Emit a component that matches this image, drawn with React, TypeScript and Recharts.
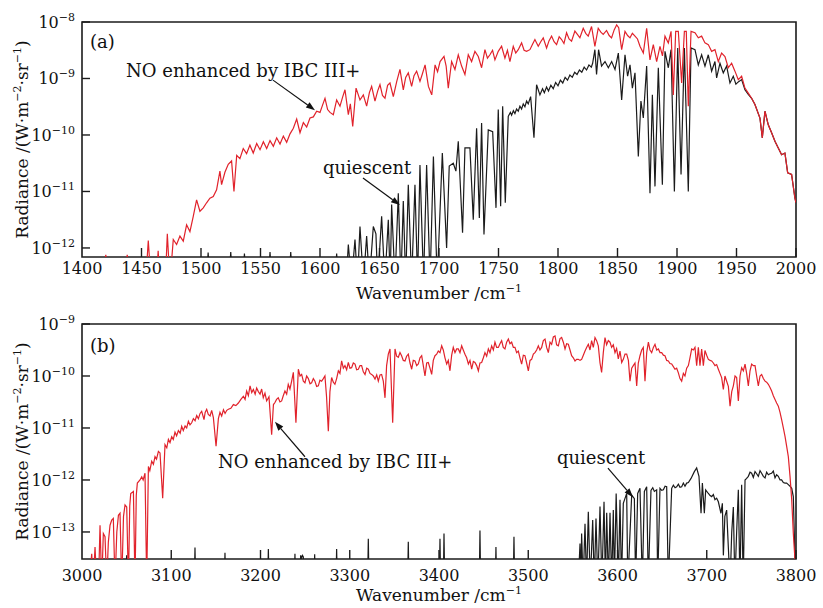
import { LineChart, Line, XAxis, YAxis, ReferenceArea, ReferenceDot } from 'recharts';

const SERIF = '"DejaVu Serif", "Liberation Serif", serif';
const RED = '#e1222b';
const INK = '#1b1b1b';

// ---- panel (a): 1400-2000 cm-1, values are log10 of radiance ----
const redAWn = [
  1400, 1418, 1420, 1422, 1436, 1438, 1440, 1453.5, 1455.7, 1458, 1462.5, 1464, 1465.5, 1470, 1471.7, 1473.9,
  1476.7, 1479.5, 1482.3, 1485.1, 1487.9, 1490.7, 1493.5, 1496.3, 1499.1, 1501.9, 1504.7, 1507.5, 1510.3, 1513.1,
  1515.9, 1517.3, 1520.1, 1522.9, 1525.7, 1527.7, 1530, 1532.7, 1535.5, 1538.3, 1541.1, 1543.9, 1546.8, 1549.6,
  1552.4, 1555.2, 1558, 1560.8, 1563.6, 1566.4, 1569.2, 1572, 1574.8, 1577.6, 1580.4, 1583.2, 1586, 1588.8, 1591.6,
  1594.4, 1597.2, 1600, 1602, 1604.2, 1606.4, 1608.4, 1611.2, 1614, 1616.8, 1619, 1621, 1623.8, 1625.5, 1627.5,
  1630.3, 1633.6, 1636.4, 1639.2, 1641.5, 1643.4, 1646.2, 1648.5, 1650.4, 1652.5, 1654.6, 1656.8, 1658.8, 1661.6,
  1664.5, 1667.2, 1670, 1672, 1674.2, 1677, 1679, 1681.2, 1684, 1686, 1688.3, 1691.1, 1693.9, 1696.7, 1698.8,
  1700.9, 1704.2, 1706, 1707.8, 1710.6, 1713.4, 1716.2, 1719, 1721.8, 1724.6, 1727.4, 1730.2, 1733, 1735.8, 1738.6,
  1740.7, 1742.8, 1745, 1747, 1749.8, 1752.6, 1755.4, 1757.5, 1759.6, 1762.4, 1764.5, 1766.6, 1769.4, 1771.5,
  1773.6, 1776.4, 1778.5, 1780.6, 1783.4, 1785.5, 1787.6, 1790.4, 1792.5, 1794.6, 1796.7, 1798.8, 1801, 1803, 1805,
  1807.2, 1809.3, 1811.4, 1814.2, 1816.3, 1818.4, 1821.2, 1823.3, 1825.4, 1828.2, 1831, 1833.8, 1836, 1838, 1840.8,
  1843, 1845, 1847.2, 1849.3, 1851, 1853.5, 1856.3, 1858.5, 1860.5, 1862.5, 1864.7, 1866.8, 1868.9, 1871.7, 1874.5,
  1877.3, 1880.1, 1882.9, 1885.7, 1887.8, 1889.9, 1892.7, 1895, 1896.9, 1898.9, 1901.1, 1903.9, 1906.2, 1907.8,
  1909.5, 1911.8, 1915.1, 1917.9, 1920.7, 1923.5, 1926.3, 1929.1, 1931.9, 1934.7, 1937.5, 1940.3, 1943.1, 1945.9,
  1948.7, 1951.5, 1954.3, 1957.1, 1959.9, 1962.7, 1965.5, 1969.7, 1971.7, 1973.9, 1976.7, 1979.5, 1982.3, 1985.1,
  1987.9, 1990.7, 1993, 1996.3, 1999.1, 2000,
];
const redALog = [
  -12.6, -12.6, -12.12, -12.6, -12.6, -12.12, -12.6, -12.6, -11.87, -12.6, -12.6, -12.05, -12.6, -12.6, -11.75, -12.6,
  -11.85, -11.94, -11.79, -11.88, -11.59, -11.71, -11.44, -11.15, -11.35, -11.29, -11.2, -11.12, -11.09, -10.97,
  -10.64, -10.88, -10.66, -10.52, -10.46, -11.0, -10.36, -10.42, -10.24, -10.33, -10.18, -10.32, -10.15, -10.26,
  -10.12, -10.24, -10.1, -10.2, -10.05, -10.16, -10.02, -10.13, -9.98, -9.88, -9.72, -9.96, -9.78, -9.86, -9.7,
  -9.68, -9.58, -9.6, -9.48, -9.35, -9.55, -9.6, -9.64, -9.38, -9.49, -9.33, -9.2, -9.64, -9.45, -9.85,
  -9.17, -9.38, -9.29, -9.49, -9.25, -9.14, -9.4, -9.22, -9.11, -9.3, -9.35, -9.12, -9.08, -9.32,
  -9.05, -8.84, -9.2, -8.98, -8.9, -9.14, -8.95, -8.87, -9.05, -8.92, -8.76, -9.14, -9.29, -8.76, -8.88,
  -8.7, -8.61, -8.78, -9.17, -8.7, -8.84, -8.58, -8.78, -8.93, -8.58, -8.7, -8.52, -8.61, -8.81, -8.49,
  -8.64, -8.58, -8.5, -8.67, -8.52, -8.43, -8.64, -8.5, -8.7, -8.43, -8.55, -8.49, -8.37, -8.5,
  -8.52, -8.49, -8.4, -8.31, -8.43, -8.35, -8.28, -8.46, -8.33, -8.25, -8.35, -8.4, -8.26, -8.31, -8.38,
  -8.19, -8.3, -8.34, -8.16, -8.22, -8.28, -8.11, -8.2, -8.25, -8.08, -8.43, -8.11, -8.18, -8.22, -8.15,
  -8.24, -8.28, -8.14, -8.05, -8.1, -8.49, -8.165, -8.24, -8.28, -8.2, -8.25, -8.3, -8.43, -8.55, -8.11,
  -8.67, -8.4, -8.7, -8.43, -8.6, -8.25, -8.37, -8.165, -9.29, -8.165, -8.165, -9.08, -8.165, -8.165,
  -9.49, -8.165, -8.19, -8.28, -8.25, -8.37, -8.4, -8.52, -8.49, -8.7, -8.55, -8.61, -8.81, -8.73,
  -8.87, -9.02, -8.96, -9.17, -9.26, -9.35, -9.46, -9.7, -10.05, -9.58, -9.82, -9.96, -10.11, -10.23,
  -10.35, -10.32, -10.67, -10.7, -11.12, -11.2,
];
const blackAWn = [
  1400, 1504.5, 1506, 1507.5, 1523.5, 1525, 1526.5, 1535, 1536.5, 1538, 1556.5, 1558, 1559.5, 1574, 1575.4, 1577,
  1612.5, 1614, 1615.5, 1622, 1623.8, 1626.5, 1629.4, 1631.5, 1633.6, 1636.5, 1639.2, 1641.5, 1644.8, 1647, 1648.5,
  1651.8, 1654.5, 1657.4, 1659, 1660.2, 1663, 1665.8, 1668, 1670, 1672, 1674.2, 1677, 1679.8, 1682, 1684, 1687,
  1689.6, 1692.5, 1695.3, 1698.5, 1702.8, 1706.4, 1708.6, 1712, 1714.2, 1716.2, 1719.8, 1721.8, 1726, 1728.8, 1731.6,
  1733.9, 1735.8, 1737.8, 1741.4, 1745.1, 1747.9, 1749.8, 1751.8, 1753.5, 1755.7, 1758.2, 1760, 1761, 1762.5, 1763.8,
  1765.2, 1766.6, 1768, 1769.4, 1770.8, 1772.2, 1773.6, 1775, 1777, 1779.8, 1782, 1784.8, 1787, 1788.5, 1790.4, 1792,
  1794, 1796, 1798, 1800, 1802, 1804, 1806, 1808, 1810, 1812, 1814, 1816, 1818, 1820, 1822, 1824, 1826, 1828, 1829.1,
  1831, 1832.4, 1834.1, 1836.6, 1839.5, 1842.3, 1845.1, 1847.9, 1850.7, 1853.5, 1856.3, 1858.5, 1860.5, 1862.5,
  1864.7, 1867.5, 1869.7, 1871.7, 1874.5, 1877.3, 1879.3, 1881.5, 1884.3, 1887.7, 1889.9, 1892.7, 1895, 1897.8,
  1900.6, 1903.4, 1906.2, 1909.5, 1911.8, 1915.1, 1917.9, 1920.7, 1923.5, 1926.3, 1929.1, 1931.9, 1933.3, 1936.1,
  1938.9, 1941.7, 1944.5, 1947.3, 1949.5, 1951.5, 1954.3, 1957.1, 1959.9, 1962.7, 1965.5, 1969.7, 1971.7, 1973.9,
  1976.7, 1979.5, 1982.3, 1985.1, 1987.9, 1990.7, 1993, 1996.3, 1999.1, 2000,
];
const blackALog = [
  -12.6, -12.6, -12.08, -12.6, -12.6, -12.07, -12.6, -12.6, -12.1, -12.6, -12.6, -12.07, -12.6, -12.6, -12.07, -12.6,
  -12.6, -12.1, -12.6, -12.6, -11.94, -12.6, -11.85, -12.6, -11.62, -12.6, -11.79, -12.6, -11.62, -11.75, -12.6,
  -11.44, -12.6, -11.5, -12.6, -11.23, -12.6, -11.03, -12.6, -11.17, -12.6, -10.88, -12.6, -10.88, -12.6, -10.53, -12.6,
  -10.53, -12.6, -10.38, -12.6, -10.32, -12.0, -10.55, -10.5, -10.64, -10.11, -11.73, -10.23, -10.23, -11.5, -9.88,
  -11.47, -9.79, -11.76, -9.91, -9.94, -11.29, -9.55, -11.26, -9.49, -11.2, -9.67, -9.6, -9.65, -9.57, -9.62,
  -9.54, -9.58, -9.49, -9.54, -9.45, -9.5, -9.4, -9.45, -9.32, -10.05, -9.11, -9.29, -9.18, -9.25, -9.15, -9.22,
  -9.12, -9.18, -9.07, -9.13, -9.03, -9.08, -8.98, -9.03, -8.94, -8.98, -8.89, -8.93, -8.85, -8.89, -8.8, -8.85, -8.76, -8.8, -8.73,
  -8.49, -8.93, -8.49, -8.78, -8.7, -8.81, -8.7, -8.84, -8.55, -9.38, -8.58, -8.96, -8.76, -9.17,
  -8.9, -10.38, -9.4, -9.7, -8.78, -11.03, -9.29, -10.91, -8.81, -10.88, -8.52, -8.81, -8.49, -11.0,
  -8.46, -10.7, -8.46, -11.0, -8.46, -8.49, -8.76, -8.58, -8.78, -8.58, -8.87, -8.7, -8.99, -8.73,
  -8.9, -8.78, -9.08, -8.96, -9.1, -9.06, -9.02, -9.2, -9.28, -9.35, -9.46, -9.7, -10.05, -9.58,
  -9.82, -9.96, -10.11, -10.23, -10.35, -10.32, -10.67, -10.7, -11.12, -11.2,
];

// ---- panel (b): 3000-3800 cm-1 ----
const redBWn = [
  3000, 3008, 3010.9, 3012.5, 3014.6, 3016.5, 3018.5, 3020.2, 3022.1, 3023.9, 3025.8, 3027.7, 3029.5, 3031.4, 3033.3,
  3035.1, 3037, 3039, 3040.8, 3042.6, 3044.5, 3046.5, 3048.2, 3050.1, 3052, 3053.5, 3054.6, 3057.6, 3059.4, 3060.8,
  3062, 3065, 3066.9, 3068.5, 3070.6, 3072.5, 3074.4, 3076, 3078.1, 3080, 3081.8, 3083.5, 3085.6, 3087.4, 3090.4,
  3093, 3095, 3096.8, 3098.6, 3100.5, 3102.3, 3104.2, 3106, 3108, 3110, 3111.7, 3113.5, 3115.5, 3117.3, 3119.2, 3121,
  3122.9, 3124.8, 3126.7, 3128.5, 3130.4, 3132.3, 3134.1, 3136.7, 3138, 3139.7, 3141.5, 3143.5, 3145.3, 3147.2,
  3150.2, 3152.8, 3154.6, 3156.5, 3158.5, 3160.3, 3162.2, 3164, 3166.8, 3169.6, 3172.4, 3175.2, 3178, 3180.8, 3182.7,
  3184.5, 3186.4, 3188.3, 3190.2, 3192, 3194, 3195.7, 3197.6, 3199.5, 3201.3, 3203.1, 3205, 3206.9, 3209.5, 3212.5,
  3214.5, 3216.2, 3218, 3219.9, 3221.8, 3223.7, 3225.5, 3227.4, 3229.3, 3231.1, 3233, 3234.9, 3236.8, 3239.7, 3242.4,
  3244.3, 3246.1, 3248, 3249.8, 3251.7, 3253.6, 3255.5, 3257.3, 3259.2, 3261, 3262.9, 3264.8, 3266.6, 3268.5, 3270.4,
  3272.2, 3274, 3276, 3277.8, 3279.7, 3281.6, 3283.4, 3285.3, 3287.2, 3289, 3290.9, 3292.8, 3294.6, 3296.5, 3298.4,
  3300.2, 3302.1, 3304, 3305.9, 3307.7, 3309.6, 3311.5, 3313.3, 3315.2, 3317.1, 3319, 3320.8, 3322.7, 3324.5, 3326.4,
  3328.3, 3330.2, 3332, 3333.9, 3335.7, 3337.6, 3339.5, 3341.3, 3343.2, 3345.1, 3348.1, 3350.7, 3352.5, 3354.4,
  3356.3, 3358.1, 3360, 3361.9, 3363.7, 3365.6, 3367.5, 3369.4, 3371.2, 3373.1, 3375, 3376.8, 3378.7, 3380.6, 3382.4,
  3384.3, 3386.2, 3388, 3389.9, 3391.8, 3393.6, 3395.5, 3397.4, 3399.2, 3401.1, 3403, 3404.8, 3406.7, 3408.6, 3410.4,
  3412.3, 3414.2, 3416, 3417.9, 3419.8, 3421.6, 3423.5, 3425.4, 3427.2, 3429.1, 3431, 3432.9, 3434.7, 3436.6, 3438.5,
  3440.3, 3442.2, 3444.1, 3445.9, 3447.8, 3449.7, 3451.5, 3453.4, 3455.3, 3457.1, 3459, 3460.9, 3462.7, 3464.6,
  3466.5, 3468.3, 3470.2, 3472, 3473.9, 3475.8, 3477.7, 3479.5, 3481.4, 3483.3, 3485.1, 3487, 3488.9, 3490.7, 3492.6,
  3494.5, 3496.3, 3498.2, 3500.1, 3502, 3503.8, 3505.7, 3507.5, 3509.4, 3511.3, 3513.1, 3515, 3516.9, 3518.8, 3520.6,
  3522.5, 3524.4, 3526.2, 3528.1, 3530, 3531.8, 3533.7, 3535.6, 3537.4, 3539.3, 3541.2, 3543, 3544.9, 3546.8, 3548.6,
  3550.5, 3552.4, 3554.2, 3556.1, 3558, 3559.8, 3561.7, 3563.6, 3565.4, 3567.3, 3569.2, 3571, 3572.9, 3574.8, 3576.6,
  3578.5, 3580.4, 3582.2, 3584.1, 3586, 3587.8, 3589.7, 3591.6, 3593.4, 3595.3, 3597.2, 3599, 3600.9, 3602.8, 3604.7,
  3606.5, 3608.4, 3610.3, 3612.2, 3614, 3615.9, 3617.7, 3619.6, 3621.5, 3623.3, 3625.2, 3627.1, 3628.9, 3630.8,
  3632.7, 3634.6, 3636.4, 3638.3, 3640.2, 3642, 3643.9, 3645.8, 3647.6, 3649.5, 3651.4, 3653.2, 3655.1, 3657, 3658.8,
  3660.7, 3662.6, 3664.4, 3666.3, 3668.2, 3670, 3671.9, 3673.8, 3675.6, 3677.5, 3679.4, 3681.2, 3683.1, 3685, 3686.8,
  3688.7, 3690.6, 3692.4, 3694.3, 3696.2, 3698, 3699.9, 3701.8, 3703.7, 3705.5, 3707.4, 3709.2, 3711.1, 3713, 3714.8,
  3716.7, 3718.6, 3720.4, 3722.3, 3724.2, 3726.1, 3728, 3729.8, 3731.7, 3733.5, 3735.4, 3737.3, 3739.1, 3741, 3742.9,
  3744.7, 3746.6, 3748.5, 3750.3, 3752.2, 3754.1, 3755.9, 3757.8, 3759.7, 3761.5, 3763.4, 3765.3, 3767.1, 3769,
  3770.9, 3772.7, 3774.6, 3776.5, 3778.3, 3780.2, 3782.1, 3783.9, 3785.8, 3787.7, 3789.5, 3791.4, 3793.3, 3795.2,
  3797, 3798.9, 3800,
];
const redBLog = [
  -14, -14, -13.42, -14, -13.29, -14, -14, -12.87, -14, -13.03, -13.09, -14, -13.2, -12.87, -12.77,
  -12.74, -14, -13.0, -12.68, -12.64, -14, -12.7, -12.48, -12.52, -14, -12.5, -12.26, -12.22, -14, -12.3,
  -12.06, -12.0, -11.94, -12.0, -11.87, -14, -11.74, -11.82, -11.64, -11.7, -11.55, -11.6, -11.45, -11.48, -12.35,
  -11.32, -11.38, -11.22, -11.28, -11.17, -11.22, -11.08, -11.15, -11.05, -11.1, -10.97, -11.05, -10.96, -11.0, -10.87, -10.94,
  -10.9, -10.82, -10.86, -10.76, -10.82, -10.72, -10.68, -10.84, -10.7, -10.64, -10.74, -10.77, -10.66, -10.8,
  -11.35, -10.82, -10.7, -10.77, -10.65, -10.72, -10.66, -10.64, -10.62, -10.55, -10.57, -10.52, -10.45, -10.39, -10.45,
  -10.29, -10.38, -10.19, -10.32, -10.26, -10.35, -10.23, -10.3, -10.35, -10.25, -10.42, -10.33, -10.48, -10.4, -11.13,
  -10.55, -10.51, -10.45, -10.42, -10.5, -10.48, -10.38, -10.29, -10.35, -10.16, -10.25, -10.1, -9.93, -10.9, -9.87,
  -10.0, -9.97, -10.1, -10.13, -10.0, -10.05, -10.15, -10.13, -10.05, -10.1, -10.2, -10.19, -10.08, -10.1, -10.05,
  -10.0, -10.4, -11.06, -10.3, -10.03, -10.12, -10.16, -10.05, -9.9, -9.95, -9.71, -9.85, -9.8, -9.88, -9.74,
  -9.85, -9.84, -9.75, -9.77, -9.88, -9.87, -9.8, -9.8, -9.92, -9.97, -9.85, -9.87, -9.95, -9.97, -10.0,
  -10.06, -9.98, -10.1, -9.98, -9.97, -10.1, -10.42, -9.8, -9.58, -9.48, -10.9, -9.48, -9.62, -9.64,
  -9.55, -9.61, -9.7, -9.71, -9.62, -9.58, -9.75, -9.87, -9.7, -9.71, -9.8, -9.77, -9.65, -9.61, -9.8,
  -10.0, -9.75, -9.74, -9.85, -9.97, -9.7, -9.61, -9.58, -9.52, -9.55, -9.42, -9.5, -9.65, -9.77, -9.7,
  -9.9, -9.6, -9.45, -9.55, -9.48, -9.48, -9.55, -9.42, -9.5, -9.58, -9.65, -9.77, -9.7, -9.87, -9.72,
  -9.74, -9.8, -9.9, -9.75, -9.74, -9.65, -9.55, -9.62, -9.48, -9.55, -9.42, -9.5, -9.35, -9.45,
  -9.45, -9.38, -9.32, -9.45, -9.48, -9.35, -9.29, -9.38, -9.35, -9.45, -9.45, -9.55, -9.52, -9.65, -9.77,
  -9.6, -9.61, -9.75, -9.9, -9.7, -9.68, -9.58, -9.55, -9.5, -9.42, -9.5, -9.45, -9.32, -9.29, -9.45,
  -9.55, -9.35, -9.39, -9.25, -9.23, -9.4, -9.42, -9.28, -9.26, -9.35, -9.48, -9.38, -9.39, -9.5, -9.61,
  -9.65, -9.71, -9.68, -9.68, -9.7, -9.68, -9.6, -9.52, -9.45, -9.39, -9.5, -9.32, -9.45, -9.26, -9.32,
  -9.42, -9.75, -9.93, -9.55, -9.26, -9.4, -9.32, -9.35, -9.45, -9.4, -9.55, -9.47, -9.67, -9.52, -9.74,
  -9.68, -9.58, -9.58, -9.7, -10.1, -9.85, -9.8, -9.75, -10.19, -9.75, -9.61, -9.5, -9.45, -10.1,
  -9.55, -9.35, -9.5, -9.55, -9.45, -9.39, -9.5, -9.48, -9.55, -9.55, -9.6, -9.61, -9.7, -9.71, -9.76,
  -9.77, -9.82, -9.87, -9.85, -9.94, -10.05, -10.1, -9.95, -10.0, -9.85, -9.8, -9.65, -9.48, -9.5, -9.45,
  -9.8, -9.45, -9.8, -9.48, -9.8, -9.51, -9.6, -9.68, -9.7, -9.71, -9.75, -9.8, -9.78, -9.87, -9.95,
  -10.03, -10.26, -10.0, -10.1, -10.2, -10.58, -10.3, -10.19, -10.0, -10.03, -10.48, -10.0, -9.84, -9.9, -9.77,
  -9.95, -10.19, -9.9, -9.77, -9.8, -9.8, -10.0, -10.19, -10.0, -9.97, -10.05, -10.1, -10.12, -10.16,
  -10.22, -10.29, -10.38, -10.45, -10.52, -10.58, -10.7, -10.84, -11.0, -11.16, -11.35, -11.55, -11.93, -12.38,
  -13.03, -13.55, -14,
];
const blackBWn = [
  3000, 3049.2, 3050, 3050.8, 3125.8, 3126.6, 3127.4, 3159.4, 3160.2, 3161, 3208, 3208.8, 3209.6, 3237.8, 3238.6, 3239.4,
  3244, 3245, 3246, 3247, 3248, 3249, 3259.9, 3260.7, 3261.5, 3284.5, 3285.3, 3286.1, 3320, 3320.8, 3321.6, 3364.8,
  3365.6, 3366.4, 3400.3, 3401.1, 3401.9, 3404.8, 3405.6, 3406.4, 3445.1, 3445.9, 3446.7, 3463, 3463.8, 3464.6, 3483.2,
  3484, 3484.8, 3556, 3558, 3559, 3559.8, 3561.5, 3563.6, 3565.3, 3567.3, 3569.5, 3572.2, 3574, 3575.9, 3578, 3580.4,
  3582.5, 3584.9, 3586.5, 3587.9, 3589.8, 3591.6, 3593.5, 3595.3, 3596.5, 3598.5, 3601, 3602.8, 3604.5, 3606.5,
  3608.5, 3610.3, 3611.5, 3615.9, 3618.9, 3620.3, 3622.6, 3625.2, 3627.8, 3630.1, 3632.7, 3634.5, 3637.5, 3639.5,
  3641.3, 3643.9, 3645, 3647.6, 3649.5, 3651.4, 3653.3, 3655.1, 3656.9, 3660.7, 3662.6, 3664.5, 3666.3, 3668.2, 3670,
  3671.9, 3673.8, 3675.6, 3677.5, 3679.4, 3682.4, 3686.1, 3688.7, 3691.3, 3693.6, 3695.1, 3697.3, 3698.8, 3701.8,
  3703.7, 3705.5, 3707.4, 3709.2, 3711.1, 3713, 3715.9, 3717.5, 3718.6, 3720.3, 3722.3, 3724.2, 3726.1, 3728, 3729.8,
  3731.5, 3733.5, 3735.4, 3737.2, 3739.1, 3740.8, 3742.9, 3744.7, 3746.6, 3748.5, 3750.3, 3752.2, 3754.1, 3755.9,
  3757.8, 3759.7, 3761.5, 3763.4, 3765.3, 3767.1, 3769, 3770.9, 3772.7, 3774.6, 3776.5, 3778.3, 3780.2, 3782.1,
  3783.9, 3785.8, 3787.7, 3789.5, 3791.4, 3793.3, 3795.2, 3797, 3798.9, 3800,
];
const blackBLog = [
  -14, -14, -13.45, -14, -14, -13.3, -14, -14, -13.4, -14, -14, -13.33, -14, -14, -13.42, -14,
  -14, -13.45, -13.5, -13.45, -13.48, -14, -14, -13.43, -14, -14, -13.33, -14, -14, -13.13, -14, -14,
  -13.19, -14, -14, -13.13, -14, -14, -13.03, -14, -14, -12.97, -14, -14, -13.29, -14, -14,
  -13.09, -14, -14, -13.22, -14, -13.03, -14, -12.84, -14, -12.61, -14, -12.77, -14, -12.74, -14, -12.51,
  -14, -12.42, -14, -12.63, -14, -12.63, -14, -12.58, -14, -12.26, -14, -12.38, -14, -12.45,
  -12.35, -12.26, -14, -12.29, -12.36, -14, -12.26, -12.16, -14, -12.22, -12.13, -14, -12.2, -12.15,
  -12.22, -12.19, -14, -12.16, -12.2, -12.19, -12.12, -12.13, -14, -12.16, -12.1, -12.15, -12.13, -12.08, -12.14,
  -12.13, -12.06, -12.12, -12.06, -12.05, -11.97, -11.84, -11.77, -11.93, -12.64, -12.06, -12.64, -12.19, -12.26,
  -12.3, -12.32, -12.28, -12.38, -12.35, -12.42, -12.64, -12.45, -13.45, -12.7, -12.58, -13.3, -14, -13.0, -12.52,
  -14, -13.0, -12.19, -14, -12.09, -14, -12.0, -11.97, -11.93, -11.85, -11.87, -11.95, -11.84, -11.88,
  -11.93, -11.82, -11.87, -11.93, -11.96, -11.85, -11.9, -11.88, -11.87, -11.83, -11.96, -11.9, -11.93, -12.0,
  -12.0, -12.05, -12.06, -12.06, -12.09, -12.12, -12.16, -12.32, -13.55, -14,
];

const xTicksA = [1400, 1450, 1500, 1550, 1600, 1650, 1700, 1750, 1800, 1850, 1900, 1950, 2000];
const xTicksB = [3000, 3100, 3200, 3300, 3400, 3500, 3600, 3700, 3800];
const yExpA = [-12, -11, -10, -9, -8];
const yExpB = [-13, -12, -11, -10, -9];
const yLowA = -12.16;
const yLowB = -13.52;

const toPts = (wn: number[], lg: number[]) => wn.map((w, i) => ({ wn: w, r: Math.pow(10, lg[i]) }));
const pow = (e: number) => Math.pow(10, e);

const makeXTick = (labelDy: number) => (p: any) => {
  const { x, y, payload } = p;
  const edge = payload.index === 0;
  return (
    <g>
      {!edge && <line x1={x} x2={x} y1={y} y2={y - 9} stroke={INK} strokeWidth={1.4} />}
      <text x={x} y={y + labelDy} textAnchor="middle" fontSize={16} fontFamily={SERIF} fill="#111">
        {payload.value}
      </text>
    </g>
  );
};

const YTick = (p: any) => {
  const { x, y, payload } = p;
  const e = Math.round(Math.log10(payload.value));
  return (
    <g>
      <line x1={x} x2={x + 8} y1={y} y2={y} stroke={INK} strokeWidth={1.4} />
      <text x={x - 7} y={y + 6} textAnchor="end" fontSize={16} fontFamily={SERIF} fill="#111">
        10<tspan dy={-7} fontSize={11}>{'\u2212' + Math.abs(e)}</tspan>
      </text>
    </g>
  );
};

const YTitle = (p: any) => {
  const vb = p.viewBox;
  const cx = 28;
  const cy = vb.y + vb.height / 2;
  return (
    <text x={cx} y={cy} transform={`rotate(-90 ${cx} ${cy})`} textAnchor="middle" fontSize={17} fontFamily={SERIF} fill="#111">
      Radiance /(W·m<tspan dy={-7} fontSize={11}>−2</tspan>
      <tspan dy={7}>·sr</tspan>
      <tspan dy={-7} fontSize={11}>−1</tspan>
      <tspan dy={7}>)</tspan>
    </text>
  );
};

const XTitle = (p: any) => {
  const vb = p.viewBox;
  return (
    <text x={vb.x + vb.width / 2} y={vb.y + p.dyTitle} textAnchor="middle" fontSize={17} fontFamily={SERIF} fill="#111">
      Wavenumber /cm<tspan dy={-7} fontSize={11}>−1</tspan>
    </text>
  );
};

// text + arrow whose tip sits on a data point
const Note = (p: any) => {
  const { cx, cy, text, tx, ty, ax, ay } = p;
  const sx = cx + ax;
  const sy = cy + ay;
  const ang = Math.atan2(cy - sy, cx - sx);
  const hl = 9;
  const hw = 3.2;
  const bx = cx - hl * Math.cos(ang);
  const by = cy - hl * Math.sin(ang);
  const nx = -Math.sin(ang) * hw;
  const ny = Math.cos(ang) * hw;
  return (
    <g>
      {text && (
        <text x={cx + tx} y={cy + ty} fontSize={18} fontFamily={SERIF} fill="#111">
          {text}
        </text>
      )}
      {ax !== undefined && (
        <>
          <line x1={sx} y1={sy} x2={bx} y2={by} stroke="#111" strokeWidth={1.2} />
          <polygon points={`${cx},${cy} ${bx + nx},${by + ny} ${bx - nx},${by - ny}`} fill="#111" />
        </>
      )}
    </g>
  );
};

function Panel(props: {
  height: number;
  top: number;
  xDomain: [number, number];
  xTicks: number[];
  yExp: number[];
  yLow: number;
  red: { wn: number; r: number }[];
  black: { wn: number; r: number }[];
  tag: string;
  tagDy: number;
  labelDy: number;
  titleDy: number;
  notes: { x: number; y: number; text: string; tx: number; ty: number; ax?: number; ay?: number }[];
}) {
  const yHigh = props.yExp[props.yExp.length - 1];
  const yDomain: [number, number] = [pow(props.yLow), pow(yHigh)];
  const axisH = props.height - props.top - 235;
  return (
    <LineChart width={823} height={props.height} margin={{ top: props.top, right: 27, bottom: 0, left: 0 }}>
      <XAxis
        dataKey="wn"
        type="number"
        domain={props.xDomain}
        ticks={props.xTicks}
        interval={0}
        allowDataOverflow
        height={axisH}
        tickSize={0}
        tickMargin={0}
        axisLine={false}
        tickLine={false}
        tick={makeXTick(props.labelDy)}
        label={<XTitle dyTitle={props.titleDy} />}
      />
      <YAxis
        scale="log"
        domain={yDomain}
        allowDataOverflow
        ticks={props.yExp.map(pow)}
        interval={0}
        width={82}
        tickSize={0}
        tickMargin={0}
        axisLine={false}
        tickLine={false}
        tick={YTick}
        label={<YTitle />}
      />
      <Line data={props.black} dataKey="r" stroke={INK} strokeWidth={1.2} dot={false} isAnimationActive={false} type="linear" />
      <Line data={props.red} dataKey="r" stroke={RED} strokeWidth={1.2} dot={false} isAnimationActive={false} type="linear" />
      <ReferenceArea
        x1={props.xDomain[0]}
        x2={props.xDomain[1]}
        y1={yDomain[0]}
        y2={yDomain[1]}
        fill="none"
        stroke={INK}
        strokeWidth={1.6}
        ifOverflow="visible"
      />
      <ReferenceDot
        x={props.xDomain[0]}
        y={yDomain[1]}
        ifOverflow="visible"
        shape={(s: any) => <Note {...s} text={props.tag} tx={8} ty={props.tagDy} />}
      />
      {props.notes.map((n, i) => (
        <ReferenceDot
          key={i}
          x={n.x}
          y={pow(n.y)}
          ifOverflow="visible"
          shape={(s: any) => <Note {...s} text={n.text} tx={n.tx} ty={n.ty} ax={n.ax} ay={n.ay} />}
        />
      ))}
    </LineChart>
  );
}

export default function App() {
  return (
    <div style={{ position: 'absolute', left: 0, top: 0, width: 823, height: 608, background: '#fff', fontFamily: SERIF }}>
      <Panel
        height={305}
        top={22}
        xDomain={[1400, 2000]}
        xTicks={xTicksA}
        yExp={yExpA}
        yLow={yLowA}
        red={toPts(redAWn, redALog)}
        black={toPts(blackAWn, blackALog)}
        tag="(a)"
        tagDy={26}
        labelDy={17}
        titleDy={42}
        notes={[
          { x: 1595.8, y: -9.56, text: 'NO enhanced by IBC III+', tx: -189, ty: -33, ax: -42, ay: -30 },
          { x: 1667.2, y: -11.24, text: 'quiescent', tx: -77, ty: -31, ax: -37, ay: -27 },
        ]}
      />
      <Panel
        height={303}
        top={19}
        xDomain={[3000, 3800]}
        xTicks={xTicksB}
        yExp={yExpB}
        yLow={yLowB}
        red={toPts(redBWn, redBLog)}
        black={toPts(blackBWn, blackBLog)}
        tag="(b)"
        tagDy={28}
        labelDy={22}
        titleDy={42}
        notes={[
          { x: 3216.2, y: -10.88, text: 'NO enhanced by IBC III+', tx: -57, ty: 46, ax: 30, ay: 35 },
          { x: 3617.3, y: -12.33, text: 'quiescent', tx: -76, ty: -33, ax: -25, ay: -29 },
        ]}
      />
    </div>
  );
}
